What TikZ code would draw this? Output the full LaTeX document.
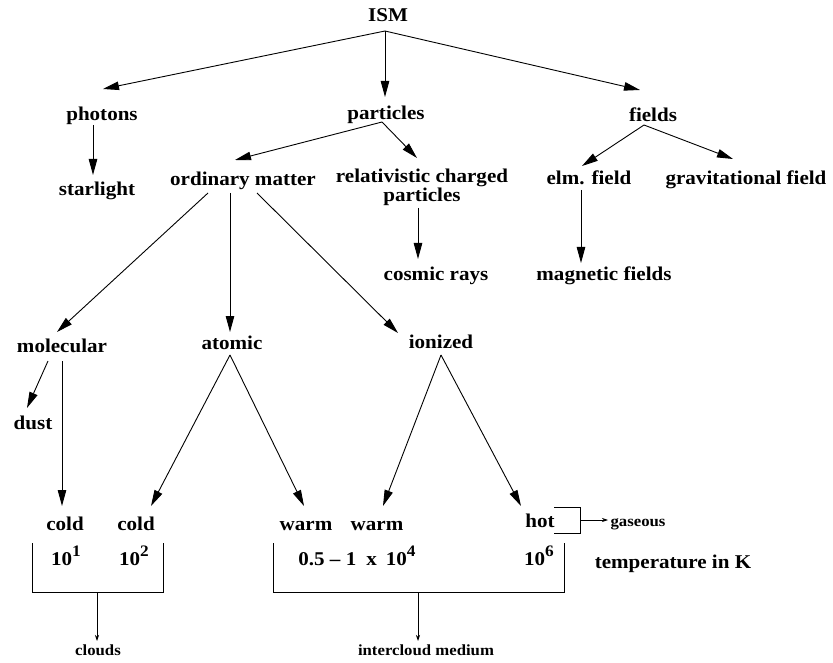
\documentclass[tikz,border=0pt]{standalone}
\usepackage{fontspec}
\setmainfont{Liberation Serif}[FakeStretch=1.08]
\usetikzlibrary{arrows.meta}
\newcommand{\supr}[1]{\raisebox{8.5pt}{\fontsize{16}{16}\selectfont #1}}
\tikzset{
  lbl/.style={anchor=base, inner sep=0pt, font=\bfseries\fontsize{19.5}{19}\selectfont},
  small/.style={anchor=base, inner sep=0pt, font=\bfseries\fontsize{15.5}{18}\selectfont},
  arr/.style={line width=0.9pt, -{Triangle[length=16pt,width=8.5pt]}},
  sarr/.style={line width=0.7pt, -{Stealth[length=6pt,width=4pt]}},
  brk/.style={line width=0.9pt},
}
\begin{document}
\begin{tikzpicture}[x=1pt,y=-1pt]
\useasboundingbox (0,0) rectangle (833,663);
% labels
\node[lbl] (ism) at (388,22) {ISM};
\node[lbl] (photons) at (102,121) {photons};
\node[lbl] (particles) at (386,120) {particles};
\node[lbl] (fields) at (653,122) {fields};
\node[lbl] (starlight) at (97,196) {starlight};
\node[lbl] (ordinary) at (243,186) {ordinary matter};
\node[lbl, align=center] (relat) at (422,202) {relativistic charged\\particles};
\node[lbl] (elm) at (589,185) {elm. field};
\node[lbl] (grav) at (746,185) {gravitational field};
\node[lbl] (cosmic) at (436,280) {cosmic rays};
\node[lbl] (magnetic) at (604,280) {magnetic fields};
\node[lbl] (molecular) at (62,352) {molecular};
\node[lbl] (atomic) at (232,349) {atomic};
\node[lbl] (ionized) at (441,348) {ionized};
\node[lbl] (dust) at (33,429) {dust};
\node[lbl] (cold1) at (65,530) {cold};
\node[lbl] (cold2) at (136,530) {cold};
\node[lbl] (warm1) at (306,530) {warm};
\node[lbl] (warm2) at (377,530) {warm};
\node[lbl] (hot) at (540,527) {hot};
\node[small] (gaseous) at (638,526) {gaseous};
\node[lbl] (t1) at (66,565) {10\supr{1}};
\node[lbl] (t2) at (134,565) {10\supr{2}};
\node[lbl] (t3) at (357,565) {0.5 – 1\hspace{10pt}x\hspace{9pt}10\supr{4}};
\node[lbl] (t4) at (539,565) {10\supr{6}};
\node[lbl] (temp) at (673,568) {temperature in K};
\node[small] (clouds) at (98,655) {clouds};
\node[small] (inter) at (426,655) {intercloud medium};
% connector ports
\coordinate (ism-o) at (385,31);
\coordinate (photons-i) at (103,89);
\coordinate (particles-i) at (385,97);
\coordinate (fields-i) at (640,90);
\coordinate (photons-o) at (93,125);
\coordinate (starlight-i) at (93,175);
\coordinate (particles-o) at (382,122);
\coordinate (ordinary-i) at (235,160);
\coordinate (relat-i) at (417,158);
\coordinate (fields-o) at (644,125);
\coordinate (elm-i) at (582,166);
\coordinate (grav-i) at (733,159);
\coordinate (relat-o) at (418,208);
\coordinate (cosmic-i) at (418,259);
\coordinate (elm-o) at (581,190);
\coordinate (magnetic-i) at (581,263);
\coordinate (ord-o1) at (208,193);
\coordinate (ord-o2) at (230,193);
\coordinate (ord-o3) at (257,193);
\coordinate (molecular-i) at (57,332);
\coordinate (atomic-i) at (230,332);
\coordinate (ionized-i) at (398,333);
\coordinate (mol-o1) at (48,361);
\coordinate (mol-o2) at (62,361);
\coordinate (dust-i) at (27,408);
\coordinate (cold1-i) at (62,506);
\coordinate (atomic-o) at (230,355);
\coordinate (cold2-i) at (151,506);
\coordinate (warm1-i) at (304,506);
\coordinate (ionized-o) at (441,355);
\coordinate (warm2-i) at (383,506);
\coordinate (hot-i) at (521,506);
\coordinate (hotb-o) at (580,520);
\coordinate (gaseous-i) at (608,520);
\coordinate (box1-o) at (97,592);
\coordinate (clouds-i) at (97,641);
\coordinate (box2-o) at (418,592);
\coordinate (inter-i) at (418,641);
% arrows
\draw[arr] (ism-o) -- (photons-i);
\draw[arr] (ism-o) -- (particles-i);
\draw[arr] (ism-o) -- (fields-i);
\draw[arr] (photons-o) -- (starlight-i);
\draw[arr] (particles-o) -- (ordinary-i);
\draw[arr] (particles-o) -- (relat-i);
\draw[arr] (fields-o) -- (elm-i);
\draw[arr] (fields-o) -- (grav-i);
\draw[arr] (relat-o) -- (cosmic-i);
\draw[arr] (elm-o) -- (magnetic-i);
\draw[arr] (ord-o1) -- (molecular-i);
\draw[arr] (ord-o2) -- (atomic-i);
\draw[arr] (ord-o3) -- (ionized-i);
\draw[arr] (mol-o1) -- (dust-i);
\draw[arr] (mol-o2) -- (cold1-i);
\draw[arr] (atomic-o) -- (cold2-i);
\draw[arr] (atomic-o) -- (warm1-i);
\draw[arr] (ionized-o) -- (warm2-i);
\draw[arr] (ionized-o) -- (hot-i);
% brackets
\draw[brk] (32,543) -- (32,592) -- (163,592) -- (163,543);
\draw[brk] (273,543) -- (273,592) -- (564,592) -- (564,543);
\draw[brk] (554,507) -- (580,507) -- (580,533) -- (554,533);
\draw[sarr] (hotb-o) -- (gaseous-i);
\draw[sarr] (box1-o) -- (clouds-i);
\draw[sarr] (box2-o) -- (inter-i);
\end{tikzpicture}
\end{document}
